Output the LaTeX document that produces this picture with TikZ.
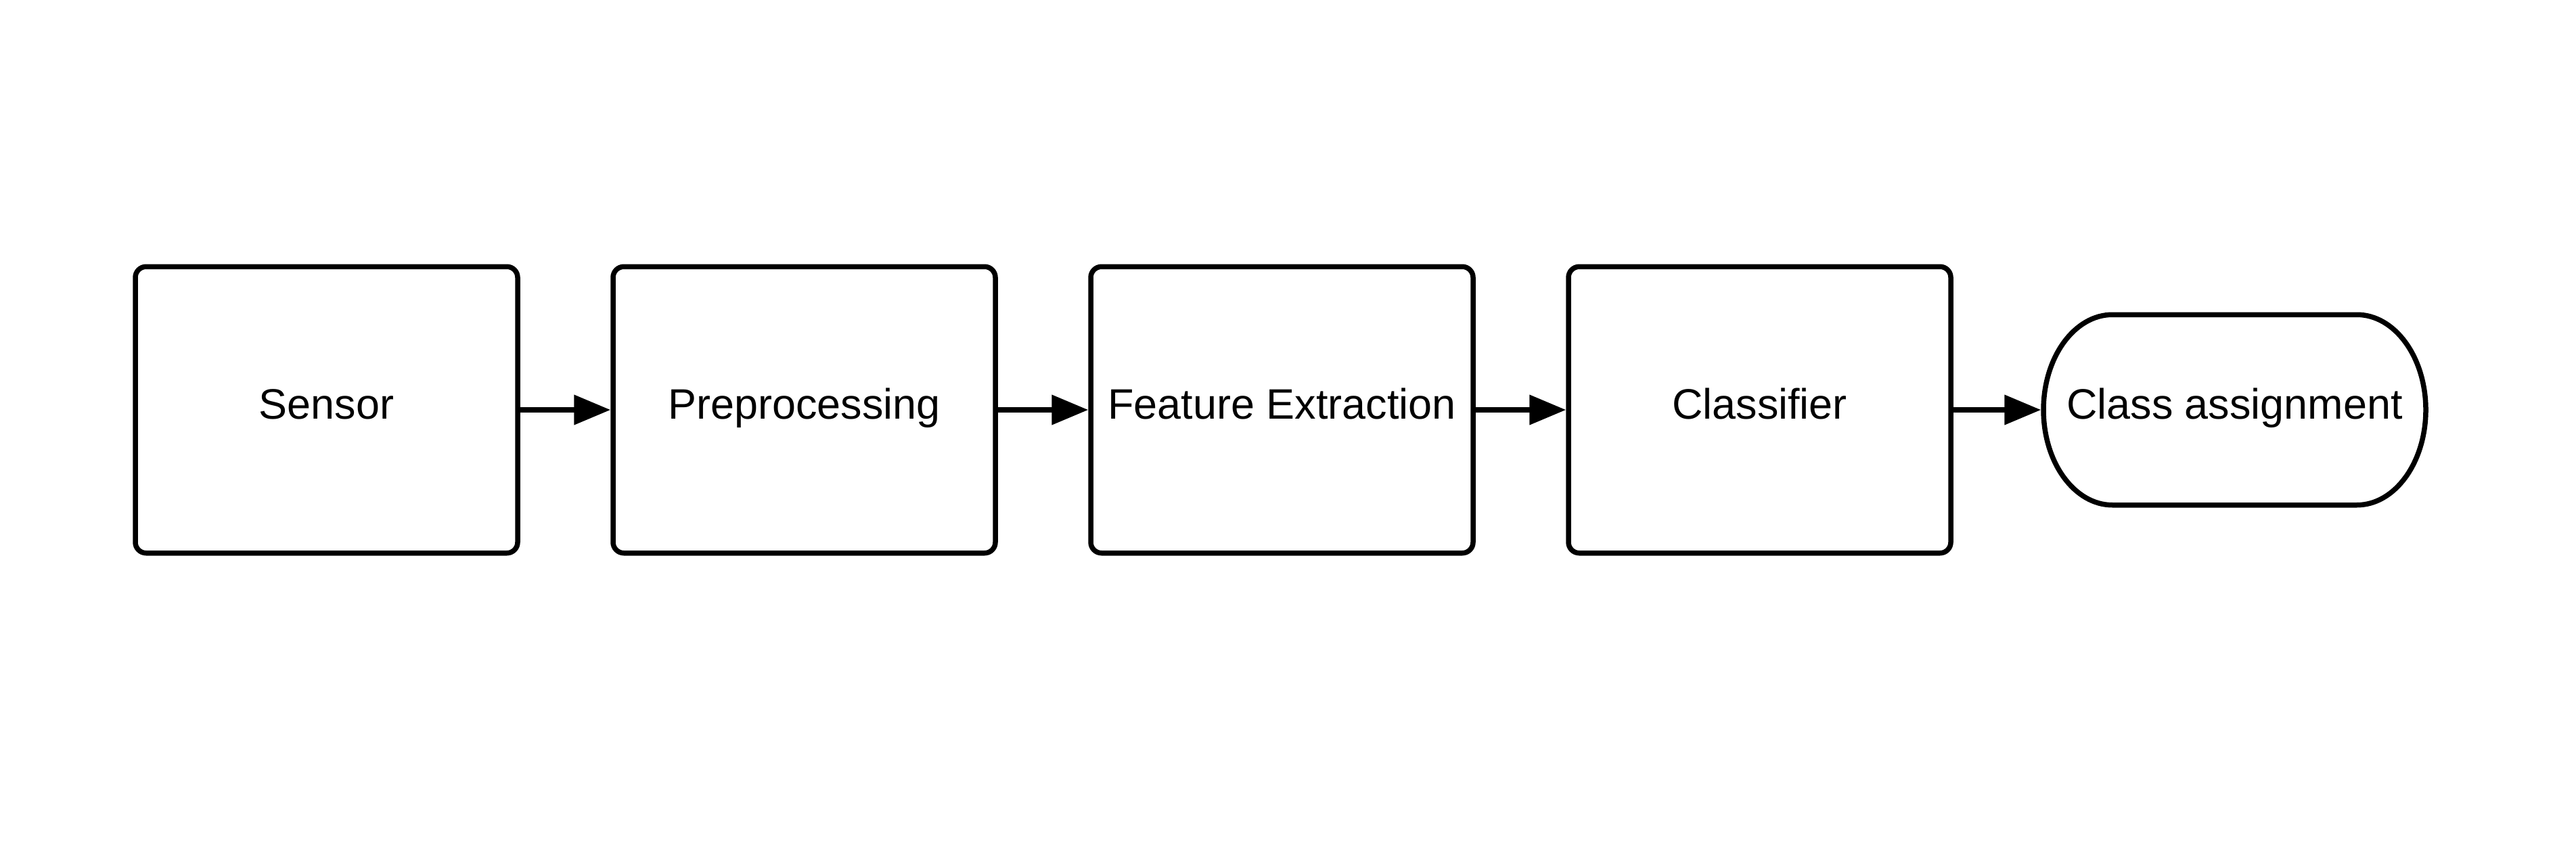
\documentclass[tikz,border=0pt]{standalone}
\usepackage{fontspec}
\setmainfont{Liberation Sans}
\usetikzlibrary{arrows.meta, positioning, calc}

\begin{document}
\begin{tikzpicture}[
    stage/.style={draw, line width=0.075cm, rounded corners=0.16cm, minimum width=5.65cm, minimum height=4.235cm, text height=0.5cm, text depth=0.24cm, font=\fontsize{17.9}{21}\selectfont},
    flow/.style={-{Triangle[length=0.54cm, width=0.43cm]}, line width=0.075cm},
    node distance=1.335cm
]
    \useasboundingbox (0,0) rectangle (38.07,-12.76);

    % pipeline stages, left to right
    \node[stage] (sensor) at (4.825,-6.06) {Sensor};
    \node[stage, right=of sensor] (prep) {Preprocessing};
    \node[stage, right=of prep] (feat) {Feature Extraction};
    \node[stage, right=of feat] (clf) {Classifier};

    % terminator at the end
    \node[stage, draw=none, minimum height=2.815cm, right=1.295cm of clf] (assign) {Class assignment};
    \draw[line width=0.075cm] ($(assign.center)+(-1.805,1.4075)$) -- ++(3.61,0)
        arc[start angle=90, end angle=-90, x radius=1.02, y radius=1.4075] -- ++(-3.61,0)
        arc[start angle=270, end angle=90, x radius=1.02, y radius=1.4075] -- cycle;

    % arrows between stages
    \draw[flow] (sensor) -- (prep);
    \draw[flow] (prep) -- (feat);
    \draw[flow] (feat) -- (clf);
    \draw[flow] (clf) -- (assign);
\end{tikzpicture}
\end{document}
